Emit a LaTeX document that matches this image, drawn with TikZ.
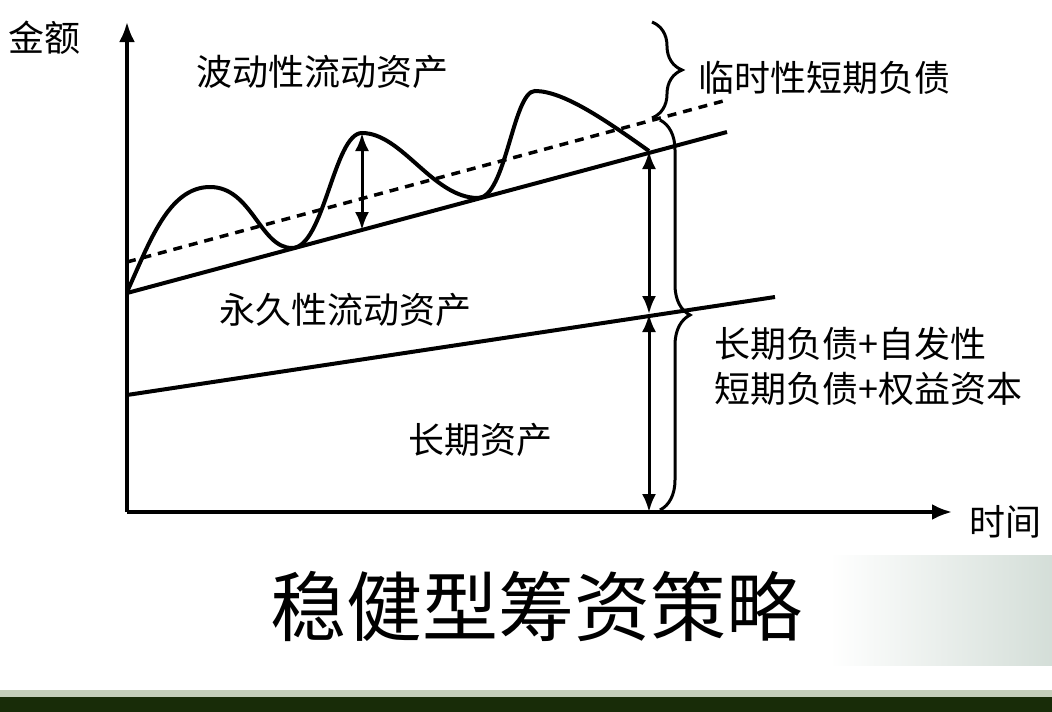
\documentclass[tikz,border=0pt]{standalone}
\usepackage{fontspec}
\setmainfont{Noto Sans CJK SC}
\usetikzlibrary{arrows.meta, decorations.pathreplacing}
\definecolor{bargreen}{RGB}{24,44,8}
\definecolor{barline}{RGB}{196,206,186}
\definecolor{bgsage}{RGB}{212,222,216}
\tikzstyle{chartlabel} = [
    font=\fontsize{36}{45}\selectfont,
    inner sep=0pt
]
\tikzstyle{titletext} = [
    font=\fontsize{76}{80}\selectfont,
    inner sep=0pt
]
\tikzstyle{axisline} = [line width=3.5pt, -{Latex[length=20pt,width=16pt]}]
\tikzstyle{flowline} = [line width=4pt]
\tikzstyle{measurearrow} = [line width=3pt, {Latex[length=18pt,width=14pt]}-{Latex[length=18pt,width=14pt]}]
\tikzstyle{bracebox} = [line width=3pt, decorate]

\begin{document}
\begin{tikzpicture}[x=1pt, y=-1pt]
\useasboundingbox (0,0) rectangle (1052,712);
\fill[white] (0,0) rectangle (1052,712);
\shade[left color=white, right color=bgsage] (830,555) rectangle (1052,665);
\fill[barline] (0,690) rectangle (1052,697);
\fill[bargreen] (0,697) rectangle (1052,712);

\coordinate (origin) at (127,512);
\coordinate (ytip) at (127,22);
\coordinate (xtip) at (952,512);
\coordinate (ltstart) at (127,395);
\coordinate (ltend) at (775,297);
\coordinate (pcstart) at (127,293);
\coordinate (pcend) at (727,132);
\coordinate (tdstart) at (127,262);
\coordinate (tdend) at (727,100);

\coordinate (w0) at (127,292);
\coordinate (w1) at (210,187);
\coordinate (w2) at (292,248);
\coordinate (w3) at (362,133);
\coordinate (w4) at (478,198);
\coordinate (w5) at (535,91);
\coordinate (w6) at (649,151);

\coordinate (peakfoot) at (362,230);
\coordinate (midcross) at (649,314);
\coordinate (basefoot) at (649,512);

\draw[axisline] (origin) -- (ytip);
\draw[axisline] (origin) -- (xtip);

\draw[flowline] (ltstart) -- (ltend);
\draw[flowline] (pcstart) -- (pcend);
\draw[line width=3.5pt, dash pattern=on 9pt off 7pt] (tdstart) -- (tdend);

\draw[flowline] (w0) .. controls +(22,-48) and +(-42,0) .. (w1)
    .. controls +(42,0) and +(-32,0) .. (w2)
    .. controls +(32,0) and +(-28,0) .. (w3)
    .. controls +(40,0) and +(-45,0) .. (w4)
    .. controls +(28,0) and +(-22,0) .. (w5)
    .. controls +(28,0) and +(-45,-32) .. (w6);

\draw[measurearrow] (w3) -- (peakfoot);
\draw[measurearrow] (w6) -- (midcross);
\draw[measurearrow] (midcross) -- (basefoot);

\draw[bracebox, decoration={brace, amplitude=30pt}] (652,22) -- (652,118);
\draw[bracebox, decoration={brace, amplitude=30pt}] (660,120) -- (660,510);

\node[chartlabel] (ylabel) at (45,38) {金额};
\node[chartlabel] (xlabel) at (1005,522) {时间};
\node[chartlabel] (fluct) at (322,72) {波动性流动资产};
\node[chartlabel] (perm) at (345,310) {永久性流动资产};
\node[chartlabel] (longasset) at (480,440) {长期资产};
\node[chartlabel, anchor=west] (tempdebt) at (698,78) {临时性短期负债};
\node[chartlabel, anchor=west, align=left] (longfund) at (714,366) {长期负债+自发性\\短期负债+权益资本};
\node[titletext] (title) at (536,606) {稳健型筹资策略};

\end{tikzpicture}
\end{document}
